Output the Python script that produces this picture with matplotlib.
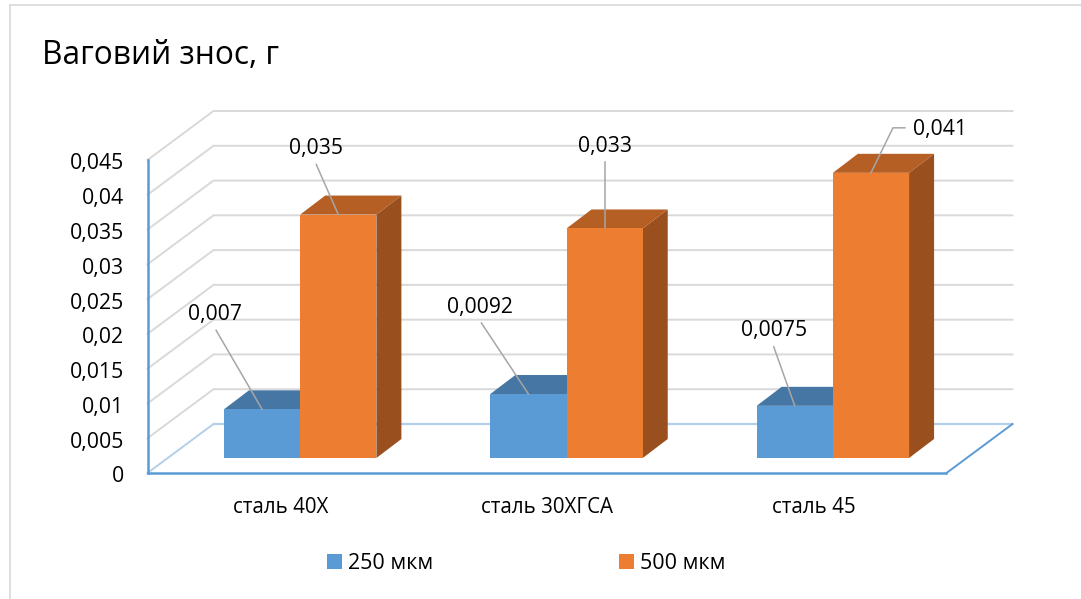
"""
Ваговий знос: псевдо-3D стовпчики, намальовані на звичайних осях.
"""

import matplotlib
matplotlib.use("Agg")
import matplotlib.pyplot as plt
from matplotlib.lines import Line2D
from matplotlib.patches import Patch
from matplotlib.transforms import ScaledTranslation

plt.rcParams["font.family"] = ["Open Sans", "DejaVu Sans"]

TITLE = "Ваговий знос, г"
CATEGORIES = ["сталь 40Х", "сталь 30ХГСА", "сталь 45"]
SERIES_NAMES = ["250 мкм", "500 мкм"]
VALUES_250 = [0.007, 0.0092, 0.0075]
VALUES_500 = [0.035, 0.033, 0.041]
LABELS_250 = ["0,007", "0,0092", "0,0075"]
LABELS_500 = ["0,035", "0,033", "0,041"]
Y_TICKS = [0, 0.005, 0.01, 0.015, 0.02, 0.025, 0.03, 0.035, 0.04, 0.045]
Y_LABELS = ["0", "0,005", "0,01", "0,015", "0,02", "0,025", "0,03", "0,035", "0,04", "0,045"]

# масштаб осей у пікселях
W, H = 1081, 599
X0, Y0 = 147.5, 473
PX_X = 799 / 3
PX_Y = 313 / 0.045

WALL_DX, WALL_DY = 66 / PX_X, 49 / PX_Y
GAP_DX, GAP_DY = 20 / PX_X, 15 / PX_Y
BAR_DX, BAR_DY = 25 / PX_X, 19 / PX_Y
BAR_W = 76.2 / PX_X
BAR_START = 76.5 / PX_X - GAP_DX

GRID = "#d9d9d9"
AXIS = "#5b9bd5"
AXIS_LIGHT = "#b4cfe9"
LEADER = "#a6a6a6"
COLORS = {
    "front": ["#5b9bd5", "#ed7d31"],
    "top": ["#4676a3", "#b65f24"],
    "side": ["#3f6b94", "#99501e"],
}

# (x, y) підпису і точки злому лінії відносно верху стовпчика, у пікселях
OFFSETS_250 = [
    {"text": (-47, 95), "line": [(-46, 79)]},
    {"text": (-48, 87), "line": [(-47, 71)]},
    {"text": (-21, 75), "line": [(-21, 59)]},
]
OFFSETS_500 = [
    {"text": (-22, 66), "line": [(-22, 50)]},
    {"text": (0, 82), "line": [(0, 66)]},
    {"text": (69, 43), "line": [(22, 45), (34, 45)]},
]


def draw_walls(ax):
    n = len(CATEGORIES)
    for v in Y_TICKS[1:]:
        ax.plot([0, WALL_DX, n + WALL_DX], [v, v + WALL_DY, v + WALL_DY],
                color=GRID, lw=1.4, clip_on=False, zorder=1)
    ax.plot([WALL_DX, n + WALL_DX], [WALL_DY, WALL_DY], color=AXIS_LIGHT, lw=1.6, clip_on=False, zorder=1)
    ax.plot([0, WALL_DX], [0, WALL_DY], color=AXIS_LIGHT, lw=1.4, clip_on=False, zorder=1)
    ax.plot([n, n + WALL_DX], [0, WALL_DY], color=AXIS, lw=1.4, clip_on=False, zorder=2)
    ax.plot([0, n], [0, 0], color=AXIS, lw=1.8, clip_on=False, zorder=2)
    ax.plot([0, 0], [0, Y_TICKS[-1]], color=AXIS, lw=1.8, clip_on=False, zorder=2)


def draw_bar(ax, x, value, idx, z):
    y0 = GAP_DY
    y1 = GAP_DY + value
    xr = x + BAR_W
    ax.fill([xr, xr + BAR_DX, xr + BAR_DX, xr], [y0, y0 + BAR_DY, y1 + BAR_DY, y1],
            color=COLORS["side"][idx], lw=0, zorder=z, clip_on=False)
    ax.fill([x, x + BAR_DX, xr + BAR_DX, xr], [y1, y1 + BAR_DY, y1 + BAR_DY, y1],
            color=COLORS["top"][idx], lw=0, zorder=z, clip_on=False)
    ax.bar(x, value, BAR_W, bottom=y0, align="edge", color=COLORS["front"][idx], lw=0, zorder=z, clip_on=False)


def draw_label(ax, x, value, text, offset):
    ax_x = x + BAR_W / 2
    ax_y = GAP_DY + value
    pts = [(ax_x, ax_y)] + [(ax_x + ox / PX_X, ax_y + oy / PX_Y) for ox, oy in offset["line"]]
    ax.plot([p[0] for p in pts], [p[1] for p in pts], color=LEADER, lw=1.1, clip_on=False, zorder=10)
    tx, ty = offset["text"]
    ax.text(ax_x + tx / PX_X, ax_y + ty / PX_Y, text, ha="center", va="center",
            fontsize=15.2, color="black", zorder=11)


def main():
    fig = plt.figure(figsize=(W / 100, H / 100), dpi=100, facecolor="white")
    ax = fig.add_axes([X0 / W, (H - Y0) / H, 799 / W, 313 / H])
    ax.set_xlim(0, len(CATEGORIES))
    ax.set_ylim(0, Y_TICKS[-1])
    ax.patch.set_alpha(0)
    for s in ax.spines.values():
        s.set_visible(False)

    draw_walls(ax)
    for i in range(len(CATEGORIES)):
        x = i + BAR_START + GAP_DX
        draw_bar(ax, x, VALUES_250[i], 0, 4)
        draw_bar(ax, x + BAR_W, VALUES_500[i], 1, 5)
        draw_label(ax, x, VALUES_250[i], LABELS_250[i], OFFSETS_250[i])
        draw_label(ax, x + BAR_W, VALUES_500[i], LABELS_500[i], OFFSETS_500[i])

    ax.set_yticks(Y_TICKS, Y_LABELS, fontsize=15.3)
    ax.set_xticks([i + 0.5 for i in range(len(CATEGORIES))], CATEGORIES, fontsize=14.8)
    ax.tick_params(axis="y", length=0, pad=17)
    ax.tick_params(axis="x", length=0, pad=17.5)
    shift = ScaledTranslation(0, -1.5 / 100, fig.dpi_scale_trans)
    for label in ax.get_yticklabels():
        label.set_transform(label.get_transform() + shift)

    fig.text(42 / W, 1 - 56 / H, TITLE, fontsize=22.8, color="black", ha="left", va="center")

    # рамка діаграми
    fig.add_artist(Line2D([10 / W, 10 / W], [0, 1 - 5 / H], color=GRID, lw=1.2))
    fig.add_artist(Line2D([10 / W, 1], [1 - 5 / H, 1 - 5 / H], color=GRID, lw=1.2))

    handles = [Patch(color=COLORS["front"][k], lw=0) for k in range(2)]
    fig.legend(handles, SERIES_NAMES, ncol=2, frameon=False, fontsize=15.5,
               loc="center left", bbox_to_anchor=(307.6 / W, 1 - 563.5 / H),
               handlelength=0.68, handleheight=0.68, handletextpad=0.28, columnspacing=8.65)

    fig.savefig("out.png", dpi=100)
    plt.close(fig)


if __name__ == "__main__":
    main()
